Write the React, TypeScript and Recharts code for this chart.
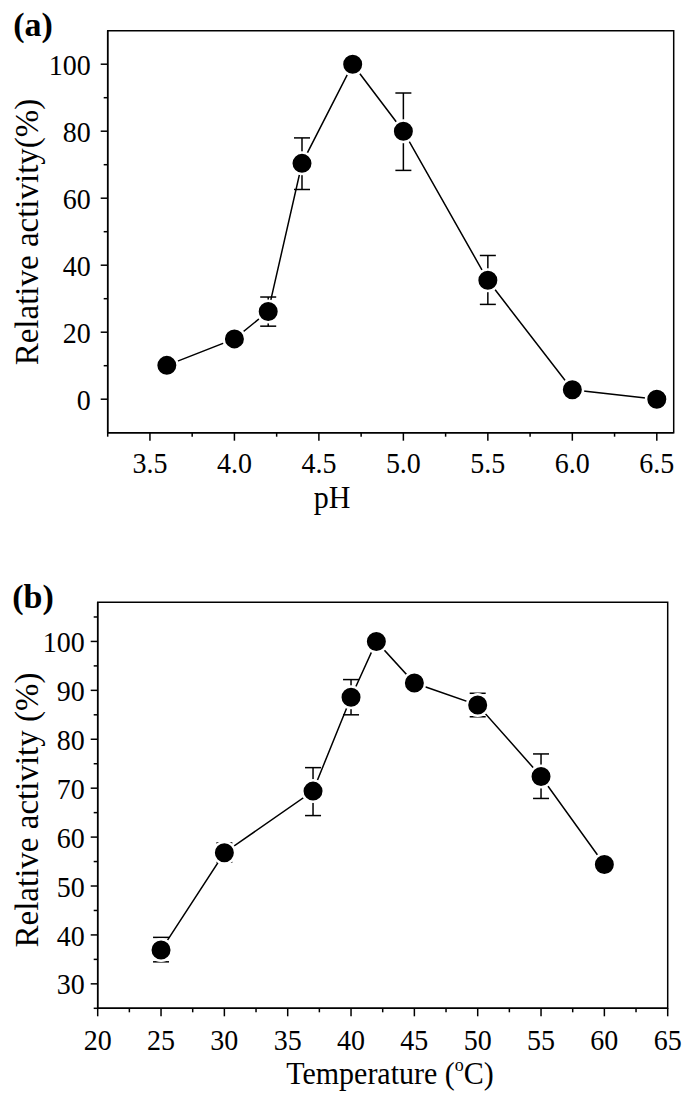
import { LineChart, Line, XAxis, YAxis, ErrorBar, ReferenceArea } from 'recharts';

const SERIF = '"Liberation Serif", "Times New Roman", serif';

// (a) pH profile
const phValues = [3.6, 4.0, 4.2, 4.4, 4.7, 5.0, 5.5, 6.0, 6.5];
const phActivity = [10.1, 18.0, 26.2, 70.4, 100, 80.0, 35.5, 2.8, 0];
const phErrLow = [0, 0, 4.4, 7.8, 0, 11.7, 7.2, 0, 0];
const phErrHigh = [0, 0, 4.3, 7.6, 0, 11.4, 7.4, 0, 0];
const phMajorTicks = [3.5, 4.0, 4.5, 5.0, 5.5, 6.0, 6.5];
const phMinorTicks = [3.25, 3.75, 4.25, 4.75, 5.25, 5.75, 6.25];
const phYMajor = [0, 20, 40, 60, 80, 100];
const phYMinor = [10, 30, 50, 70, 90];

// (b) temperature profile
const temps = [25, 30, 37, 40, 42, 45, 50, 55, 60];
const tempActivity = [36.9, 56.8, 69.4, 88.6, 100, 91.5, 87.0, 72.4, 54.4];
const tempErrLow = [2.4, 1.9, 5.0, 3.6, 0, 0, 2.4, 4.5, 0];
const tempErrHigh = [2.6, 2.0, 4.8, 3.6, 0, 0, 2.4, 4.6, 0];
const tMajorTicks = [20, 25, 30, 35, 40, 45, 50, 55, 60, 65];
const tMinorTicks = [22.5, 27.5, 32.5, 37.5, 42.5, 47.5, 52.5, 57.5, 62.5];
const tYMajor = [30, 40, 50, 60, 70, 80, 90, 100];
const tYMinor = [25, 35, 45, 55, 65, 75, 85, 95, 105];

const phData = phValues.map((x, i) => ({ x, y: phActivity[i], err: [phErrLow[i], phErrHigh[i]] }));
const tempData = temps.map((x, i) => ({ x, y: tempActivity[i], err: [tempErrLow[i], tempErrHigh[i]] }));

const labelStyle = { fontFamily: SERIF, fontSize: 28, fill: '#000' };
const STRETCH = 1.08; // glyphs in the source look slightly tall

const makeXTick = (majors: number[], fmt: (v: number) => string, labelOffset: number) => (props: any) => {
  const { x, y, payload } = props;
  const major = majors.includes(payload.value);
  return (
    <g>
      <line x1={x} y1={y} x2={x} y2={y + (major ? 8 : 4)} stroke="#000" strokeWidth={1.5} />
      {major && (
        <text transform={`translate(${x} ${y + labelOffset}) scale(1 ${STRETCH})`} textAnchor="middle" style={labelStyle}>
          {fmt(payload.value)}
        </text>
      )}
    </g>
  );
};

const makeYTick = (majors: number[], gap: number) => (props: any) => {
  const { x, y, payload } = props;
  const major = majors.includes(payload.value);
  return (
    <g>
      <line x1={x - (major ? 7 : 4)} y1={y} x2={x} y2={y} stroke="#000" strokeWidth={1.5} />
      {major && (
        <text transform={`translate(${x - gap} ${y}) scale(1 ${STRETCH})`} dy="0.35em" textAnchor="end" style={labelStyle}>
          {payload.value}
        </text>
      )}
    </g>
  );
};

const Dot = (props: any) => {
  const { cx, cy } = props;
  return <circle cx={cx} cy={cy} r={10.75} fill="#000" stroke="#fff" strokeWidth={2.5} />;
};

const textBase: React.CSSProperties = {
  position: 'absolute',
  fontFamily: SERIF,
  color: '#000',
  whiteSpace: 'nowrap',
  lineHeight: 1,
};

export default function App() {
  return (
    <div style={{ position: 'absolute', left: 0, top: 0, width: 685, height: 1103, background: '#fff' }}>
      <div style={{ position: 'absolute', left: 0, top: 0 }}>
        <LineChart width={685} height={520} data={phData} margin={{ top: 30.7, right: 11.3, left: 0, bottom: 27.3 }}>
          <XAxis
            type="number"
            dataKey="x"
            domain={[3.25, 6.6]}
            ticks={[...phMajorTicks, ...phMinorTicks].sort((a, b) => a - b)}
            interval={0}
            height={60}
            tickSize={0}
            tickMargin={0}
            tickLine={false}
            axisLine={{ stroke: '#000', strokeWidth: 1.5 }}
            tick={makeXTick(phMajorTicks, (v) => v.toFixed(1), 40)}
            allowDataOverflow
          />
          <YAxis
            type="number"
            domain={[-10, 110]}
            ticks={[...phYMajor, ...phYMinor].sort((a, b) => a - b)}
            interval={0}
            width={107.7}
            tickSize={0}
            tickMargin={0}
            tickLine={false}
            axisLine={{ stroke: '#000', strokeWidth: 1.5 }}
            tick={makeYTick(phYMajor, 17)}
            allowDataOverflow
          />
          <ReferenceArea x1={3.25} x2={6.6} y1={-10} y2={110} fill="none" stroke="#000" strokeWidth={1.5} />
          <Line dataKey="y" stroke="#000" strokeWidth={1.5} dot={<Dot />} isAnimationActive={false}>
            <ErrorBar dataKey="err" width={8} stroke="#000" strokeWidth={1.5} direction="y" isAnimationActive={false} />
          </Line>
        </LineChart>
      </div>

      <div style={{ position: 'absolute', left: 0, top: 560 }}>
        <LineChart width={685} height={543} data={tempData} margin={{ top: 42.3, right: 17.3, left: 0, bottom: 34.7 }}>
          <XAxis
            type="number"
            dataKey="x"
            domain={[20, 65]}
            ticks={[...tMajorTicks, ...tMinorTicks].sort((a, b) => a - b)}
            interval={0}
            height={60}
            tickSize={0}
            tickMargin={0}
            tickLine={false}
            axisLine={{ stroke: '#000', strokeWidth: 1.5 }}
            tick={makeXTick(tMajorTicks, (v) => String(v), 42)}
            allowDataOverflow
          />
          <YAxis
            type="number"
            domain={[25, 108]}
            ticks={[...tYMajor, ...tYMinor].sort((a, b) => a - b)}
            interval={0}
            width={97.7}
            tickSize={0}
            tickMargin={0}
            tickLine={false}
            axisLine={{ stroke: '#000', strokeWidth: 1.5 }}
            tick={makeYTick(tYMajor, 13)}
            allowDataOverflow
          />
          <ReferenceArea x1={20} x2={65} y1={25} y2={108} fill="none" stroke="#000" strokeWidth={1.5} />
          <Line dataKey="y" stroke="#000" strokeWidth={1.5} dot={<Dot />} isAnimationActive={false}>
            <ErrorBar dataKey="err" width={8} stroke="#000" strokeWidth={1.5} direction="y" isAnimationActive={false} />
          </Line>
        </LineChart>
      </div>

      <div style={{ ...textBase, left: 33, top: 25, fontSize: 34, fontWeight: 'bold', transform: 'translate(-50%, -50%)' }}>(a)</div>
      <div style={{ ...textBase, left: 33, top: 597, fontSize: 34, fontWeight: 'bold', transform: 'translate(-50%, -50%)' }}>(b)</div>

      <div style={{ ...textBase, left: 27, top: 232, fontSize: 33, transform: 'translate(-50%, -50%) rotate(-90deg)' }}>
        Relative activity(%)
      </div>
      <div style={{ ...textBase, left: 27, top: 810, fontSize: 33, transform: 'translate(-50%, -50%) rotate(-90deg)' }}>
        Relative activity (%)
      </div>

      <div style={{ ...textBase, left: 332, top: 482, fontSize: 30, transform: `translateX(-50%) scaleY(${STRETCH})` }}>pH</div>
      <div style={{ ...textBase, left: 390, top: 1058, fontSize: 30, transform: `translateX(-50%) scaleY(${STRETCH})` }}>
        Temperature (<sup style={{ fontSize: 18, verticalAlign: 'top', position: 'relative', top: -2 }}>o</sup>C)
      </div>
    </div>
  );
}
